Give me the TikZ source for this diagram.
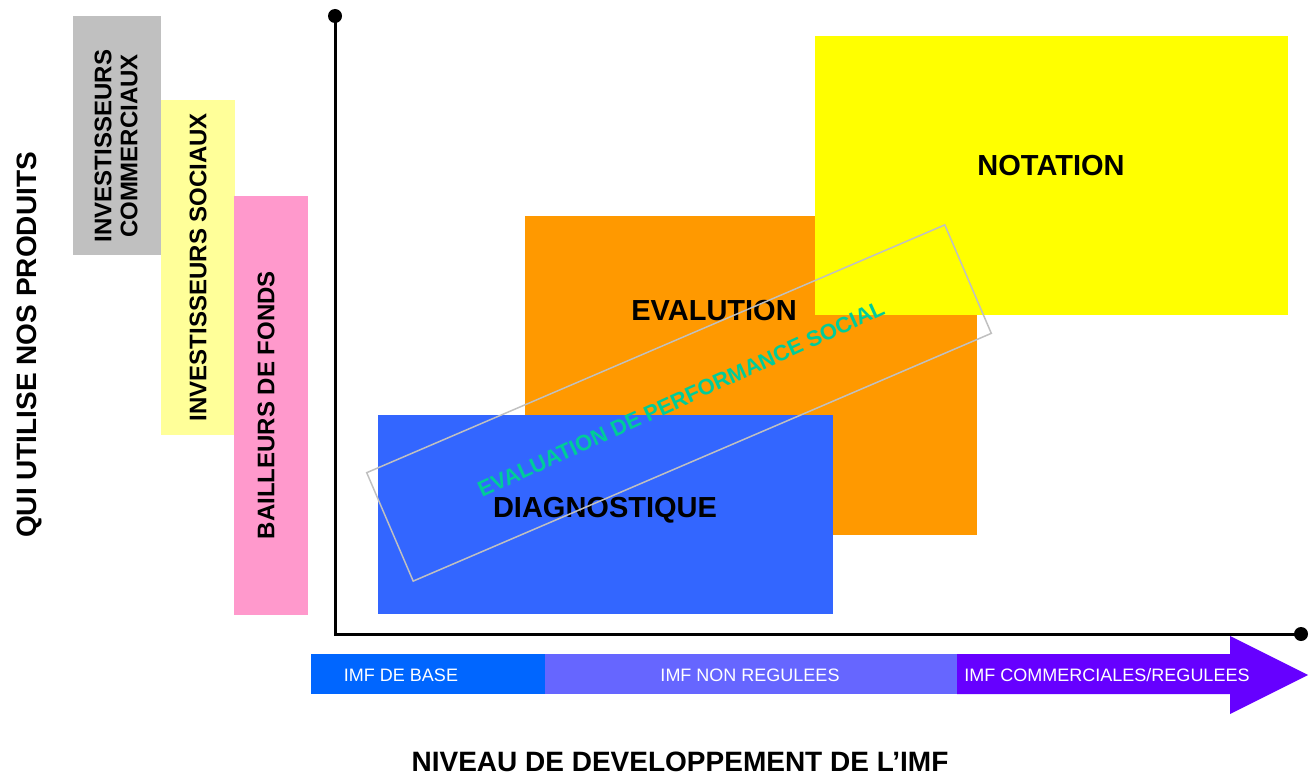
\documentclass[tikz,border=0pt]{standalone}
\usepackage{fontspec}
\setmainfont{Liberation Sans}
\definecolor{cgray}{HTML}{C0C0C0}
\definecolor{clightyellow}{HTML}{FFFF99}
\definecolor{cpink}{HTML}{FF99CC}
\definecolor{corange}{HTML}{FF9900}
\definecolor{cyellow}{HTML}{FFFF00}
\definecolor{cblue}{HTML}{3366FF}
\definecolor{cbarblue}{HTML}{0066FF}
\definecolor{cbarmid}{HTML}{6666FF}
\definecolor{cbarpurple}{HTML}{6600FF}
\definecolor{cgreen}{RGB}{0,204,153}
\definecolor{cframe}{HTML}{C0C0C0}
\begin{document}
\begin{tikzpicture}[x=1pt,y=-1pt,
  box/.style={inner sep=0pt, outer sep=0pt, anchor=north west},
  vlabel/.style={rotate=90, align=center, inner sep=0pt,
    font=\fontsize{24}{26}\selectfont\bfseries},
  biglabel/.style={inner sep=0pt, font=\fontsize{29}{32}\selectfont\bfseries},
  title/.style={inner sep=0pt, font=\fontsize{28}{32}\selectfont\bfseries},
  barlabel/.style={inner sep=0pt, text=white, font=\fontsize{18}{20}\selectfont},
  axis/.style={line width=3pt},
  enddot/.style={circle, fill=black, inner sep=0pt, minimum size=14pt}]
\useasboundingbox (0,0) rectangle (1316,781);

% user groups on the left
\node[box, fill=cgray, minimum width=88pt, minimum height=239pt] (comm) at (73,16) {};
\node[box, fill=clightyellow, minimum width=74pt, minimum height=335pt] (soc) at (161,100) {};
\node[box, fill=cpink, minimum width=74pt, minimum height=419pt] (bail) at (234,196) {};
\node[vlabel] (commtxt) at (116,146) {INVESTISSEURS\\COMMERCIAUX};
\node[vlabel] (soctxt) at (198,267) {INVESTISSEURS SOCIAUX};
\node[vlabel] (bailtxt) at (266,405) {BAILLEURS DE FONDS};
\node[title, rotate=90] (ytitle) at (29,345) {QUI UTILISE NOS PRODUITS};

% product blocks
\node[box, fill=corange, minimum width=452pt, minimum height=319pt] (eval) at (525,216) {};
\node[box, fill=cyellow, minimum width=473pt, minimum height=279pt] (nota) at (815,36) {};
\node[box, fill=cblue, minimum width=455pt, minimum height=199pt] (diag) at (378,415) {};
\node[biglabel] (evaltxt) at (714,311) {EVALUTION};
\node[biglabel] (notatxt) at (1051,166) {NOTATION};
\node[biglabel] (diagtxt) at (605,510) {DIAGNOSTIQUE};

% social performance frame
\node[draw=cframe, line width=1.5pt, rotate=23.2, minimum width=629pt,
  minimum height=118pt, inner sep=0pt] (spframe) at (679,403) {};
\node[inner sep=0pt, rotate=24.5, text=cgreen,
  font=\fontsize{22}{24}\selectfont\bfseries] (sptxt) at (681,399)
  {EVALUATION DE PERFORMANCE SOCIAL};

% axes
\coordinate (ytop) at (335,16);
\coordinate (orig) at (335,634);
\coordinate (xend) at (1301,634);
\draw[axis] (ytop) -- (orig) -- (xend);
\node[enddot] (ydot) at (ytop) {};
\node[enddot] (xdot) at (xend) {};

% development stages bar
\node[box, fill=cbarblue, minimum width=234pt, minimum height=40pt] (base) at (311,654) {};
\node[box, fill=cbarmid, minimum width=413pt, minimum height=40pt] (nonreg) at (545,654) {};
\fill[cbarpurple] (957,654) -- (1230,654) -- (1230,636) -- (1308,675)
  -- (1230,714) -- (1230,694) -- (957,694) -- cycle;
\node[barlabel] (basetxt) at (401,675) {IMF DE BASE};
\node[barlabel] (nonregtxt) at (750,675) {IMF NON REGULEES};
\node[barlabel] (regtxt) at (1107,675) {IMF COMMERCIALES/REGULEES};

\node[title] (xtitle) at (680,762) {NIVEAU DE DEVELOPPEMENT DE L’IMF};
\end{tikzpicture}
\end{document}
